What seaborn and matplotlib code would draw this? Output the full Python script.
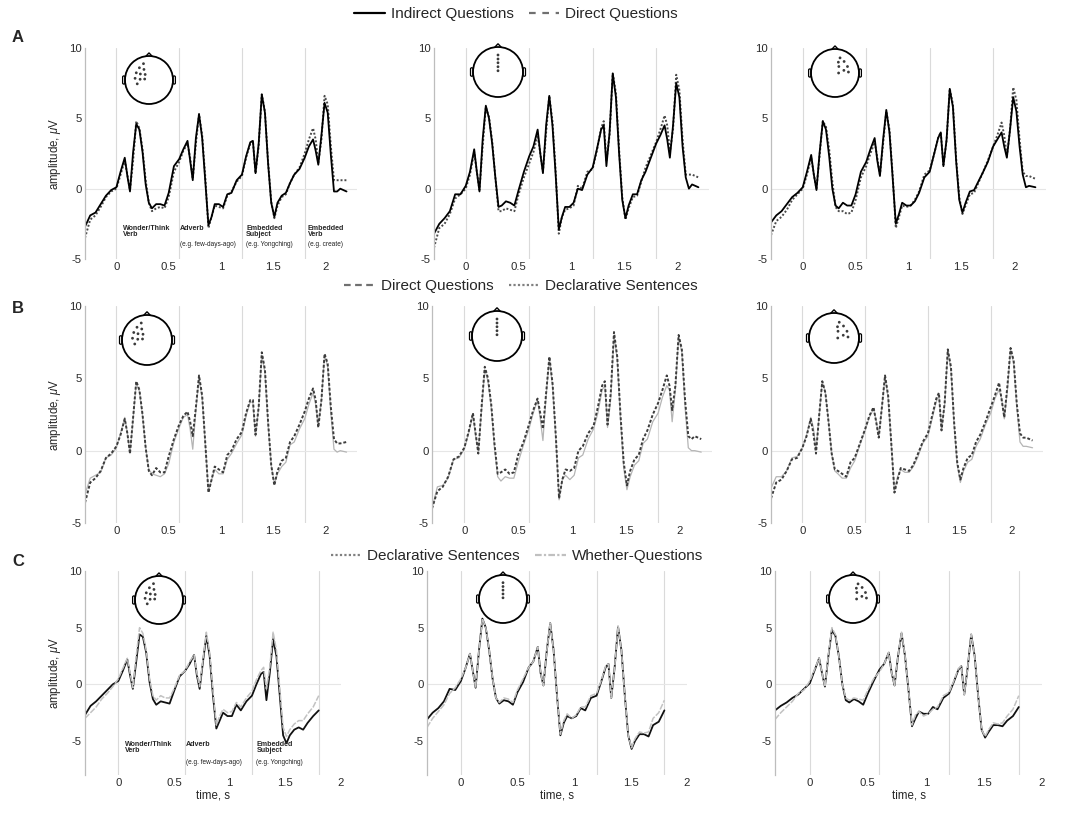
import numpy as np
import pandas as pd
import matplotlib.pyplot as plt
import seaborn as sns
from matplotlib.lines import Line2D
from matplotlib.patches import Circle, Polygon, FancyBboxPatch

sns.set_style("white")
plt.rcParams['font.family'] = ['Liberation Sans', 'DejaVu Sans']
plt.rcParams['mathtext.fontset'] = 'custom'
plt.rcParams['mathtext.it'] = 'Liberation Sans:italic'
plt.rcParams['mathtext.rm'] = 'Liberation Sans'
plt.rcParams['lines.solid_joinstyle'] = 'round'
plt.rcParams['lines.dash_joinstyle'] = 'round'

# 时间轴 (s)
T_AB = [-0.30, -0.25, -0.20, -0.15, -0.10, -0.05,
        0.00, 0.04, 0.08, 0.105, 0.13, 0.16, 0.19, 0.22, 0.25, 0.28, 0.31, 0.34, 0.38, 0.42, 0.46, 0.50, 0.55,
        0.60, 0.64, 0.68, 0.705, 0.73, 0.76, 0.79, 0.82, 0.85, 0.88, 0.91, 0.94, 0.98, 1.02, 1.06, 1.10, 1.15,
        1.20, 1.24, 1.28, 1.305, 1.33, 1.36, 1.39, 1.42, 1.45, 1.48, 1.51, 1.54, 1.58, 1.62, 1.66, 1.70, 1.75,
        1.80, 1.84, 1.88, 1.905, 1.93, 1.96, 1.99, 2.02, 2.05, 2.08, 2.11, 2.14, 2.20]
T_C = [-0.30, -0.25, -0.20, -0.15, -0.10, -0.05,
       0.00, 0.04, 0.08, 0.105, 0.13, 0.16, 0.19, 0.22, 0.25, 0.28, 0.31, 0.34, 0.38, 0.42, 0.46, 0.50, 0.55,
       0.60, 0.64, 0.68, 0.705, 0.73, 0.76, 0.79, 0.82, 0.85, 0.88, 0.91, 0.94, 0.98, 1.02, 1.06, 1.10, 1.15,
       1.20, 1.24, 1.28, 1.305, 1.33, 1.36, 1.39, 1.42, 1.45, 1.48, 1.51, 1.54, 1.58, 1.62, 1.66, 1.70, 1.75,
       1.80]

# 词起始时间
ONSETS = [0.0, 0.6, 1.2, 1.8]
WORDS = ["Wonder/Think\nVerb", "Adverb", "Embedded\nSubject", "Embedded\nVerb"]
EXAMPLES = ["", "(e.g. few-days-ago)", "(e.g. Yongching)", "(e.g. create)"]

# A 行: Indirect vs Direct
A1_IND = [-2.7, -1.9, -1.7, -1.1, -0.5, -0.1,
          0.1, 1.2, 2.2, 0.9, -0.2, 2.6, 4.6, 4.2, 2.6, 0.3, -1.0, -1.4, -1.1, -1.1, -1.2, -0.3, 1.6,
          2.1, 2.8, 3.4, 2.0, 0.6, 3.6, 5.3, 3.6, 0.5, -2.6, -2.0, -1.1, -1.1, -1.3, -0.4, -0.3, 0.6,
          1.0, 2.3, 3.3, 3.4, 1.1, 3.2, 6.7, 5.4, 1.8, -1.0, -2.0, -1.0, -0.5, -0.3, 0.4, 1.0, 1.4,
          2.2, 3.0, 3.5, 2.7, 1.7, 3.8, 6.1, 5.4, 2.4, -0.2, -0.2, 0.0, -0.2]
A1_DIR = [-3.5, -2.2, -1.9, -1.3, -0.6, -0.2,
          0.0, 1.0, 2.0, 1.0, -0.1, 2.0, 4.8, 4.3, 2.8, 0.6, -1.0, -1.6, -1.4, -1.3, -1.4, -0.6, 1.2,
          1.9, 2.7, 3.2, 2.2, 0.7, 3.2, 5.3, 3.8, 0.8, -2.8, -2.0, -1.2, -1.3, -1.4, -0.5, -0.2, 0.5,
          0.9, 2.2, 3.2, 3.4, 1.1, 3.0, 6.7, 5.5, 1.9, -0.9, -2.1, -1.2, -0.6, -0.4, 0.4, 1.0, 1.5,
          2.5, 3.5, 4.3, 3.5, 1.8, 3.5, 6.6, 6.0, 3.0, 0.6, 0.6, 0.6, 0.6]
A2_IND = [-3.2, -2.5, -2.1, -1.6, -0.4, -0.4,
          0.2, 1.2, 2.8, 1.2, -0.2, 3.5, 5.9, 5.0, 3.2, 0.8, -1.3, -1.2, -0.9, -1.0, -1.2, -0.1, 1.2,
          2.3, 3.0, 4.2, 2.5, 1.1, 4.5, 6.6, 4.5, 1.0, -2.9, -2.0, -1.3, -1.3, -1.0, 0.0, -0.1, 1.0,
          1.5, 2.8, 4.2, 4.5, 1.6, 4.0, 8.2, 6.5, 2.5, -0.8, -2.1, -1.2, -0.4, -0.4, 0.6, 1.2, 2.2,
          3.2, 3.8, 4.5, 3.5, 2.2, 4.5, 7.5, 6.5, 3.0, 0.8, 0.0, 0.3, 0.1]
A2_DIR = [-4.2, -2.8, -2.5, -1.8, -0.7, -0.4,
          0.0, 1.0, 2.6, 1.2, -0.1, 3.0, 5.8, 5.1, 3.4, 0.8, -1.6, -1.6, -1.4, -1.5, -1.6, -0.4, 0.8,
          1.8, 2.6, 3.8, 2.5, 1.2, 4.0, 6.6, 4.8, 1.3, -3.2, -2.0, -1.5, -1.4, -1.2, 0.2, 0.0, 1.2,
          1.4, 2.7, 4.3, 4.8, 2.0, 3.8, 8.2, 6.8, 2.8, -0.6, -2.2, -1.4, -0.6, -0.5, 0.5, 1.5, 2.4,
          3.3, 4.2, 5.2, 4.5, 2.6, 4.2, 8.1, 7.0, 3.5, 1.0, 1.0, 1.0, 0.8]
A3_IND = [-2.4, -1.9, -1.6, -1.1, -0.6, -0.3,
          0.1, 1.2, 2.4, 1.0, -0.1, 2.6, 4.8, 4.2, 2.3, 0.0, -1.2, -1.4, -1.0, -1.2, -1.2, -0.4, 1.2,
          1.9, 2.8, 3.6, 2.0, 0.9, 3.5, 5.6, 4.0, 0.8, -2.5, -1.8, -1.0, -1.2, -1.2, -0.9, -0.3, 0.8,
          1.2, 2.4, 3.6, 4.0, 1.6, 3.5, 7.1, 5.8, 2.0, -0.8, -1.7, -1.0, -0.2, -0.1, 0.5, 1.1, 1.9,
          3.0, 3.5, 4.0, 3.0, 2.2, 4.2, 6.5, 5.5, 3.0, 1.0, 0.1, 0.2, 0.1]
A3_DIR = [-3.3, -2.3, -2.0, -1.5, -0.8, -0.4,
          0.0, 1.0, 2.2, 1.0, 0.0, 2.4, 4.8, 4.4, 2.8, 0.5, -1.3, -1.6, -1.6, -1.8, -1.7, -0.8, 0.8,
          1.6, 2.5, 3.3, 2.2, 1.0, 3.2, 5.5, 4.2, 1.0, -2.8, -2.0, -1.2, -1.3, -1.2, -0.8, -0.2, 1.0,
          1.3, 2.4, 3.6, 4.0, 1.7, 3.4, 7.1, 6.0, 2.2, -0.6, -1.8, -1.2, -0.4, -0.3, 0.4, 1.1, 2.0,
          3.0, 3.8, 4.7, 3.8, 2.3, 4.2, 7.2, 6.3, 3.5, 1.2, 0.9, 0.9, 0.7]

# B 行: Direct vs Declarative
B1_DIR = [-3.6, -2.2, -1.9, -1.4, -0.5, -0.2,
          0.3, 1.1, 2.2, 1.2, -0.2, 2.3, 4.8, 4.2, 2.5, 0.2, -1.4, -1.7, -1.2, -1.5, -1.5, -0.4, 0.8,
          1.8, 2.4, 2.7, 2.0, 1.0, 3.0, 5.2, 3.8, 0.5, -2.9, -2.0, -1.1, -1.3, -1.5, -0.3, 0.0, 0.8,
          1.3, 2.6, 3.5, 3.5, 1.1, 3.0, 6.8, 5.6, 2.0, -1.0, -2.4, -1.4, -0.7, -0.5, 0.6, 1.0, 1.8,
          2.7, 3.6, 4.3, 3.5, 1.6, 3.5, 6.7, 6.0, 3.0, 0.8, 0.5, 0.5, 0.6]
B1_DEC = [-3.0, -1.9, -1.7, -1.5, -0.5, -0.3,
          0.2, 1.2, 2.3, 1.2, -0.2, 2.2, 4.7, 4.1, 2.4, 0.2, -1.3, -1.6, -1.7, -1.8, -1.6, -0.9, 0.6,
          1.6, 2.3, 2.5, 1.5, 0.1, 2.8, 5.0, 3.6, 0.4, -2.8, -2.0, -1.3, -1.6, -1.6, -0.6, -0.2, 0.5,
          1.1, 2.4, 3.4, 3.3, 1.0, 3.0, 6.6, 5.4, 1.8, -1.0, -2.3, -1.6, -1.1, -0.8, 0.4, 0.6, 1.5,
          2.2, 3.2, 4.0, 3.2, 1.7, 3.5, 6.6, 5.8, 2.6, 0.1, -0.1, 0.0, -0.1]
B2_DIR = [-4.0, -2.8, -2.5, -1.8, -0.6, -0.4,
          0.2, 1.3, 2.6, 1.2, -0.2, 3.0, 5.8, 5.0, 3.2, 0.5, -1.6, -1.5, -1.3, -1.6, -1.5, -0.3, 0.6,
          1.8, 2.8, 3.6, 2.6, 1.5, 4.0, 6.5, 4.6, 1.0, -3.3, -2.0, -1.3, -1.4, -1.2, 0.0, 0.3, 1.2,
          1.7, 3.0, 4.5, 4.8, 1.8, 4.0, 8.2, 6.5, 2.5, -0.8, -2.4, -1.4, -0.6, -0.3, 0.8, 1.4, 2.5,
          3.3, 4.2, 5.2, 4.5, 2.8, 4.5, 8.0, 7.0, 3.5, 1.0, 0.8, 1.0, 0.8]
B2_DEC = [-4.0, -2.5, -2.4, -1.9, -0.6, -0.5,
          0.1, 1.2, 2.5, 1.0, 0.0, 2.8, 5.6, 4.8, 3.0, 0.2, -1.8, -2.1, -1.8, -1.9, -1.9, -0.8, 0.4,
          1.5, 2.6, 3.5, 2.2, 0.7, 3.8, 6.4, 4.4, 0.8, -3.4, -2.0, -1.7, -2.0, -1.7, -0.5, -0.3, 0.8,
          1.5, 2.6, 4.2, 4.5, 1.6, 3.6, 8.0, 6.3, 2.2, -1.2, -2.7, -1.8, -1.0, -0.7, 0.5, 0.8, 2.0,
          2.6, 3.7, 4.5, 4.2, 2.0, 4.2, 7.8, 6.8, 3.0, 0.2, 0.0, 0.0, -0.1]
B3_DIR = [-3.3, -2.2, -2.0, -1.4, -0.6, -0.5,
          0.2, 1.0, 2.2, 1.2, -0.2, 2.4, 4.8, 4.0, 2.0, -0.2, -1.3, -1.4, -1.6, -1.8, -0.8, -0.5, 0.5,
          1.5, 2.4, 3.0, 2.0, 0.9, 3.0, 5.2, 3.8, 0.5, -2.9, -2.0, -1.2, -1.3, -1.4, -1.0, -0.3, 0.6,
          1.2, 2.4, 3.6, 4.0, 1.4, 3.3, 7.0, 5.8, 2.0, -0.8, -2.0, -1.2, -0.5, -0.3, 0.6, 1.1, 2.0,
          3.0, 3.8, 4.7, 3.5, 2.3, 4.5, 7.1, 6.2, 3.2, 1.2, 0.9, 0.9, 0.7]
B3_DEC = [-2.6, -1.8, -1.8, -1.4, -0.5, -0.4,
          0.2, 1.1, 2.3, 1.6, 0.0, 2.4, 4.8, 4.0, 2.0, -0.2, -1.4, -1.6, -1.9, -1.9, -1.2, -0.7, 0.4,
          1.4, 2.3, 2.9, 2.1, 1.0, 3.0, 5.1, 3.6, 0.4, -2.8, -1.8, -1.3, -1.5, -1.5, -1.1, -0.5, 0.5,
          1.0, 2.2, 3.4, 3.8, 1.5, 3.2, 6.9, 5.6, 1.8, -1.0, -2.2, -1.4, -0.8, -0.6, 0.3, 0.8, 1.8,
          2.6, 3.6, 4.2, 3.6, 2.2, 4.2, 7.0, 6.0, 3.0, 0.6, 0.3, 0.3, 0.2]

# C 行: Declarative vs Whether
C1_DEC = [-2.7, -1.9, -1.5, -1.0, -0.5, 0.0,
          0.3, 1.2, 2.2, 0.8, -0.4, 2.0, 4.4, 4.2, 2.8, 0.2, -1.3, -1.8, -1.5, -1.6, -1.7, -0.6, 0.7,
          1.2, 1.8, 2.6, 0.8, -0.4, 2.0, 4.3, 2.5, -1.0, -3.9, -3.2, -2.5, -2.8, -2.8, -1.8, -2.3, -1.5,
          -1.0, 0.0, 0.9, 1.1, -1.4, 1.0, 4.0, 2.5, -1.0, -4.5, -5.2, -4.5, -4.0, -3.8, -4.0, -3.4, -2.8,
          -2.3]
C1_WHE = [-3.0, -2.5, -2.0, -1.3, -0.8, -0.2,
          0.5, 1.4, 2.3, 1.0, -0.3, 2.5, 5.0, 4.5, 3.0, 0.5, -1.0, -1.4, -1.0, -1.2, -1.2, -0.4, 0.8,
          1.2, 2.0, 2.6, 1.0, -0.2, 2.2, 4.6, 2.8, -0.6, -3.6, -2.8, -2.2, -2.5, -2.4, -1.6, -2.0, -1.2,
          -0.6, 0.4, 1.2, 1.5, -0.4, 1.5, 4.6, 3.0, -0.4, -3.8, -4.6, -4.0, -3.5, -3.2, -3.2, -2.6, -2.0,
          -1.0]
C2_DEC = [-3.1, -2.5, -2.1, -1.5, -0.4, -0.5,
          0.3, 1.4, 2.7, 1.2, -0.3, 3.0, 5.8, 5.0, 3.0, 0.5, -1.2, -1.7, -1.4, -1.5, -1.8, -0.7, 0.2,
          1.5, 2.0, 3.3, 1.0, -0.1, 3.0, 5.4, 3.0, -1.0, -4.5, -3.4, -2.8, -3.0, -2.8, -2.1, -2.3, -1.2,
          -1.0, 0.2, 1.5, 1.8, -1.2, 1.5, 5.1, 3.0, -1.0, -4.5, -5.7, -5.0, -4.4, -4.4, -4.6, -3.6, -3.3,
          -2.3]
C2_WHE = [-3.8, -3.0, -2.4, -1.8, -0.8, -0.3,
          0.5, 1.4, 2.7, 1.2, -0.3, 3.0, 5.8, 5.0, 3.0, 0.5, -1.2, -1.6, -1.2, -1.3, -1.6, -0.5, 0.5,
          1.5, 2.0, 3.3, 1.0, -0.1, 3.0, 5.4, 3.0, -1.0, -4.4, -3.2, -2.6, -3.0, -2.7, -2.0, -2.0, -1.0,
          -0.8, 0.3, 1.6, 1.8, -1.2, 1.5, 5.1, 3.0, -1.0, -4.5, -5.6, -4.8, -4.2, -4.3, -4.2, -3.0, -2.5,
          -1.4]
C3_DEC = [-2.3, -1.9, -1.6, -1.2, -0.9, -0.4,
          0.1, 1.2, 2.3, 1.0, -0.2, 2.5, 4.8, 4.3, 2.5, 0.0, -1.4, -1.6, -1.3, -1.5, -1.8, -0.8, 0.3,
          1.3, 1.8, 2.8, 1.0, -0.1, 2.5, 4.5, 2.5, -0.5, -3.7, -3.0, -2.4, -2.6, -2.6, -2.0, -2.2, -1.2,
          -0.8, 0.2, 1.3, 1.6, -0.9, 1.5, 4.4, 2.5, -1.0, -4.0, -4.7, -4.2, -3.6, -3.6, -3.7, -3.2, -2.8,
          -2.0]
C3_WHE = [-3.1, -2.5, -2.0, -1.5, -0.8, -0.5,
          0.3, 1.3, 2.3, 1.0, -0.2, 2.6, 5.0, 4.4, 2.5, 0.0, -1.2, -1.4, -1.2, -1.3, -1.4, -0.5, 0.5,
          1.1, 1.8, 2.8, 1.0, -0.1, 2.5, 4.6, 2.5, -0.5, -3.6, -2.7, -2.4, -2.8, -2.6, -2.2, -2.0, -1.0,
          -0.7, 0.3, 1.4, 1.6, -0.9, 1.5, 4.4, 2.5, -1.0, -4.0, -4.6, -4.0, -3.4, -3.5, -3.4, -2.8, -2.2,
          -1.0]

# 电极位置 (头模型坐标)
ELEC_LEFT_X = [-0.23, -0.40, -0.21, -0.53, -0.36, -0.16, -0.58, -0.37, -0.18, -0.49]
ELEC_LEFT_Y = [0.68, 0.51, 0.44, 0.30, 0.25, 0.23, 0.07, 0.03, 0.04, -0.16]
ELEC_MID_X = [0.0, 0.0, 0.0, 0.0, 0.0]
ELEC_MID_Y = [0.68, 0.52, 0.37, 0.21, 0.05]
ELEC_RIGHT_X = [0.21, 0.14, 0.38, 0.16, 0.52, 0.37, 0.15, 0.56]
ELEC_RIGHT_Y = [0.63, 0.45, 0.48, 0.27, 0.27, 0.11, 0.00, 0.04]

W, H = 1084, 815
fig = plt.figure(figsize=(W / 100, H / 100), dpi=100)


def px_axes(l, t, r, b):
    return fig.add_axes([l / W, 1 - b / H, (r - l) / W, (b - t) / H])


def draw_head(cx, cy, r, ex, ey):
    ax = fig.add_axes([(cx - 1.3 * r) / W, 1 - (cy + 1.3 * r) / H, 2.6 * r / W, 2.6 * r / H])
    ax.set_xlim(-1.3, 1.3)
    ax.set_ylim(-1.3, 1.3)
    ax.axis('off')
    ax.add_patch(Circle((0, 0), 1, fill=False, lw=1.3, ec='black'))
    ax.add_patch(Polygon([[-0.13, 0.99], [0, 1.13], [0.13, 0.99]], closed=False, fill=False, lw=1.0, ec='black'))
    for side in (-1, 1):
        x0 = 1.0 if side > 0 else -1.1
        ax.add_patch(FancyBboxPatch((x0, -0.17), 0.1, 0.34, boxstyle="round,pad=0.0,rounding_size=0.05",
                                    fill=False, lw=0.9, ec='black'))
    sns.scatterplot(x=ex, y=ey, ax=ax, s=4, color='#3a3a3a', edgecolor='none', legend=False)


def style_axes(ax, xlim, ylim):
    ax.set_xlim(*xlim)
    ax.set_ylim(*ylim)
    for on in ONSETS:
        ax.axvline(on, color='#dadada', lw=0.8, zorder=0)
    ax.axhline(0, color='#e6e6e6', lw=0.8, zorder=0)
    ax.set_xticks([0, 0.5, 1, 1.5, 2])
    ax.set_xticklabels(['0', '0.5', '1', '1.5', '2'])
    ax.set_yticks([-5, 0, 5, 10])
    ax.set_yticklabels(['-5', '0', '5', '10'])
    ax.tick_params(length=0, labelsize=8.2, labelcolor='#2a2a2a', pad=2.5)
    for s in ['top', 'right', 'bottom']:
        ax.spines[s].set_visible(False)
    ax.spines['left'].set_color('#bdbdbd')
    ax.spines['left'].set_linewidth(0.9)
    ax.set_xlabel('')
    ax.set_ylabel('')


def draw_series(ax, t, v, color, lw, ls):
    df = pd.DataFrame({'t': t, 'v': v})
    sns.lineplot(data=df, x='t', y='v', ax=ax, color=color, linewidth=lw, linestyle=ls,
                 estimator=None, sort=False)


ROW_A = dict(top=48, bottom=259, boxes=[(85, 357), (434, 709), (771, 1046)], xlim=(-0.3, 2.3), ylim=(-5, 10))
ROW_B = dict(top=306, bottom=523, boxes=[(85, 357), (432, 712), (771, 1043)], xlim=(-0.3, 2.3), ylim=(-5, 10))
ROW_C = dict(top=571, bottom=775, boxes=[(85, 341), (427, 687), (775, 1042)], xlim=(-0.3, 2.0), ylim=(-8, 10))

rows = [
    (ROW_A, T_AB,
     [[(A1_DIR, '#4a4a4a', 1.4, (0, (1.0, 1.0))), (A1_IND, 'black', 1.3, '-')],
      [(A2_DIR, '#4a4a4a', 1.4, (0, (1.0, 1.0))), (A2_IND, 'black', 1.3, '-')],
      [(A3_DIR, '#4a4a4a', 1.4, (0, (1.0, 1.0))), (A3_IND, 'black', 1.3, '-')]]),
    (ROW_B, T_AB,
     [[(B1_DEC, '#b5b5b5', 0.9, '-'), (B1_DIR, '#3c3c3c', 1.4, (0, (1.5, 1.0)))],
      [(B2_DEC, '#b5b5b5', 0.9, '-'), (B2_DIR, '#3c3c3c', 1.4, (0, (1.5, 1.0)))],
      [(B3_DEC, '#b5b5b5', 0.9, '-'), (B3_DIR, '#3c3c3c', 1.4, (0, (1.5, 1.0)))]]),
    (ROW_C, T_C,
     [[(C1_DEC, '#111111', 1.3, '-'), (C1_WHE, '#c2c2c2', 1.1, (0, (4, 1)))],
      [(C2_DEC, '#111111', 1.3, '-'), (C2_WHE, '#c2c2c2', 1.1, (0, (4, 1)))],
      [(C3_DEC, '#111111', 1.3, '-'), (C3_WHE, '#c2c2c2', 1.1, (0, (4, 1)))]]),
]

axes = []
for row, t, panels in rows:
    row_axes = []
    for (l, r), series in zip(row['boxes'], panels):
        ax = px_axes(l, row['top'], r, row['bottom'])
        for v, c, lw, ls in series:
            draw_series(ax, t, v, c, lw, ls)
        style_axes(ax, row['xlim'], row['ylim'])
        row_axes.append(ax)
    axes.append(row_axes)

for i in range(3):
    axes[i][0].set_ylabel(r'amplitude, $\mu$V', fontsize=8.3, labelpad=4)
for ax in axes[2]:
    ax.set_xlabel('time, s', fontsize=8.3, labelpad=1)

# 词标注
offs = [0.06, 0.01, 0.04, 0.03]
for k in range(4):
    axes[0][0].text(ONSETS[k] + offs[k], -2.55, WORDS[k], fontsize=5.1, fontweight='bold', va='top', ha='left',
                    linespacing=0.9)
    axes[0][0].text(ONSETS[k] + offs[k], -3.75, EXAMPLES[k], fontsize=4.7, va='top', ha='left', color='#222222')
for k in range(3):
    axes[2][0].text(ONSETS[k] + offs[k], -5.0, WORDS[k], fontsize=5.1, fontweight='bold', va='top', ha='left',
                    linespacing=0.9)
    axes[2][0].text(ONSETS[k] + offs[k], -6.6, EXAMPLES[k], fontsize=4.7, va='top', ha='left', color='#222222')

# 头模型
heads = [
    (149, 80, 24, ELEC_LEFT_X, ELEC_LEFT_Y), (498, 72, 25, ELEC_MID_X, ELEC_MID_Y),
    (835, 73, 24, ELEC_RIGHT_X, ELEC_RIGHT_Y),
    (147, 340, 25, ELEC_LEFT_X, ELEC_LEFT_Y), (497, 336, 25, ELEC_MID_X, ELEC_MID_Y),
    (834, 338, 25, ELEC_RIGHT_X, ELEC_RIGHT_Y),
    (159, 600, 24, ELEC_LEFT_X, ELEC_LEFT_Y), (503, 599, 24, ELEC_MID_X, ELEC_MID_Y),
    (853, 599, 24, ELEC_RIGHT_X, ELEC_RIGHT_Y),
]
for cx, cy, r, ex, ey in heads:
    draw_head(cx, cy, r, ex, ey)

# 图例
legends = [
    (516, 14, [('Indirect Questions', 'black', '-'), ('Direct Questions', '#707070', (0, (3, 3)))]),
    (521, 286, [('Direct Questions', '#707070', (0, (3, 2))), ('Declarative Sentences', '#808080', (0, (1, 1)))]),
    (517, 556, [('Declarative Sentences', '#808080', (0, (1, 1))), ('Whether-Questions', '#c0c0c0', (0, (3, 1, 1, 1)))]),
]
for cx, cy, items in legends:
    handles = [Line2D([], [], color=c, lw=1.6, linestyle=ls) for _, c, ls in items]
    fig.legend(handles, [n for n, _, _ in items], loc='center', bbox_to_anchor=(cx / W, 1 - cy / H), ncol=2,
               frameon=False, fontsize=11, handlelength=2.0, columnspacing=1.0, handletextpad=0.4,
               borderpad=0, borderaxespad=0)

for lab, y in [('A', 37), ('B', 308), ('C', 561)]:
    fig.text(18 / W, 1 - y / H, lab, fontsize=12, fontweight='bold', ha='center', va='center')

fig.savefig('out.png', dpi=100)
